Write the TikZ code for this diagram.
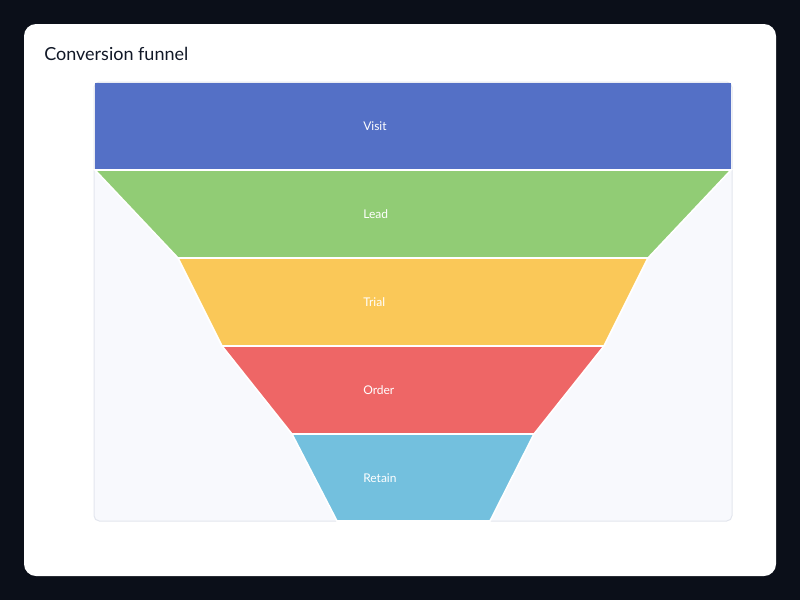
\documentclass[tikz,border=0pt]{standalone}
\usepackage{fontspec}
\setmainfont{Lato}
\definecolor{bg}{HTML}{0B0F19}
\definecolor{plotbg}{HTML}{F8F9FD}
\definecolor{plotbd}{HTML}{E3E6EE}
\definecolor{cA}{HTML}{5470C6}
\definecolor{cB}{HTML}{91CC75}
\definecolor{cC}{HTML}{FAC858}
\definecolor{cD}{HTML}{EE6666}
\definecolor{cE}{HTML}{73C0DE}
\definecolor{ttl}{HTML}{111827}
\begin{document}
\begin{tikzpicture}[x=0.75pt,y=-0.75pt,
  seg/.style={draw=white,line width=1.2pt,line join=miter},
  lab/.style={anchor=west,text=white,font=\fontsize{9}{10}\selectfont,inner sep=0pt}]
\fill[bg] (0,0) rectangle (800,600);
\fill[white,rounded corners=9pt] (24,24) rectangle (776,576);
\node[anchor=west,text=ttl,font=\fontsize{13.5}{15}\selectfont,inner sep=0pt] (title) at (44,54) {Conversion funnel};
\filldraw[fill=plotbg,draw=plotbd,line width=0.75pt,rounded corners=4pt] (94,82) rectangle (732,521);
\fill[cA] (95,83) rectangle (731,169.5);
\draw[seg,fill=cB] (95,170) -- (731,170) -- (648,258) -- (178,258) -- cycle;
\draw[seg,fill=cC] (178,258) -- (648,258) -- (604,346) -- (222,346) -- cycle;
\draw[seg,fill=cD] (222,346) -- (604,346) -- (534,434) -- (292,434) -- cycle;
\draw[seg,fill=cE] (292,434) -- (534,434) -- (490,521) -- (337,521) -- cycle;
\node[lab] (l1) at (363,126) {Visit};
\node[lab] (l2) at (363,214) {Lead};
\node[lab] (l3) at (363,302) {Trial};
\node[lab] (l4) at (363,390) {Order};
\node[lab] (l5) at (363,478) {Retain};
\end{tikzpicture}
\end{document}
